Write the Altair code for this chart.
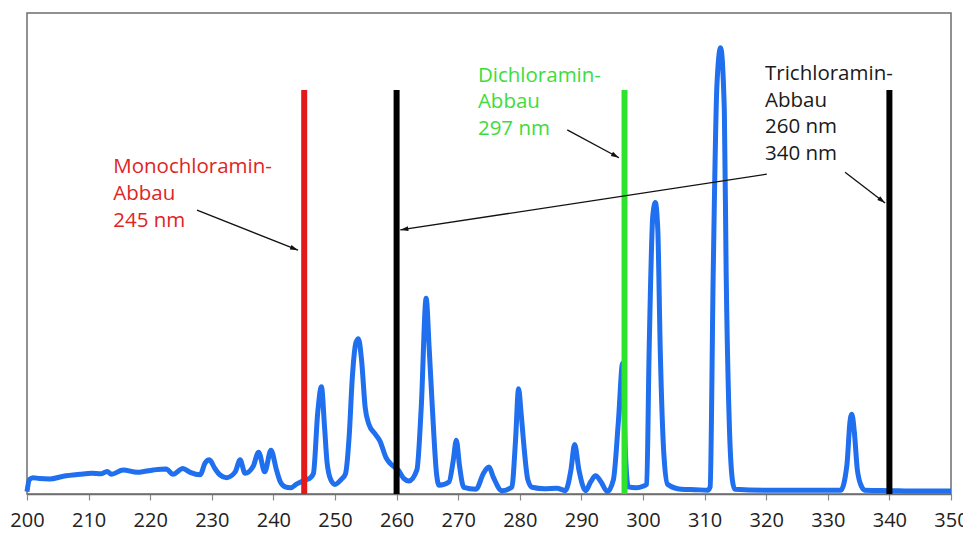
import math
import altair as alt
import pandas as pd

# ---- spectrum (wavelength in nm, relative intensity) ----
wavelength = [
    200.0, 200.4, 201.0, 202.0, 203.7, 205.9, 208.6, 210.5, 212.0, 213.0, 213.7,
    215.6, 217.9, 220.5, 222.6, 223.7, 225.3, 226.5, 228.1, 228.9, 229.6, 230.5,
    231.3, 232.4, 233.8, 234.6, 235.4, 236.7, 237.6, 238.6, 239.6, 240.5, 241.1,
    241.9, 242.8, 243.8, 244.6, 245.4, 246.0, 246.5, 247.2, 247.8, 248.3, 248.7,
    249.3, 250.0, 251.0, 251.7, 252.3, 252.8, 253.4, 253.8, 254.3, 254.9, 255.5,
    256.5, 257.3, 258.3, 259.0, 260.3, 261.2, 262.0, 263.3, 264.0, 264.8, 265.3,
    265.8, 266.5, 266.9, 268.5, 269.2, 269.7, 270.2, 270.9, 272.9, 274.1, 275.0,
    275.7, 277.1, 278.7, 279.3, 279.8, 280.2, 280.6, 281.3, 282.0, 284.0, 286.0,
    287.4, 288.3, 288.9, 289.6, 290.7, 291.5, 292.3, 293.2, 294.2, 295.2, 296.0,
    296.7, 297.1, 297.6, 298.9, 300.0, 300.6, 301.0, 301.6, 302.0, 302.4, 302.8,
    303.4, 304.0, 306.2, 308.5, 310.5, 310.9, 311.4, 312.0, 312.6, 313.2, 313.5,
    314.0, 314.5, 314.9, 320.0, 326.0, 332.1, 333.1, 333.6, 333.9, 334.3, 334.8,
    335.5, 336.0, 340.0, 345.0, 350.0,
]
intensity = [
    0.5, 3.0, 3.4, 3.2, 3.1, 3.7, 4.1, 4.3, 4.2, 4.7, 4.1,
    5.0, 4.5, 5.0, 5.2, 4.1, 5.3, 4.5, 4.0, 6.4, 7.1, 5.3,
    4.0, 3.4, 4.6, 7.1, 4.3, 5.7, 8.7, 4.6, 9.1, 5.0, 2.6,
    1.5, 1.3, 2.1, 2.6, 3.0, 3.4, 4.3, 17.0, 22.3, 14.0, 6.7,
    3.0, 2.0, 3.0, 4.2, 12.0, 24.0, 31.5, 32.3, 28.0, 18.0, 14.5,
    12.5, 11.0, 7.5, 6.3, 4.9, 3.2, 2.7, 5.0, 18.0, 40.7, 30.0,
    18.0, 4.0, 1.8, 2.5, 7.0, 11.2, 6.0, 1.4, 1.0, 4.3, 5.6,
    3.5, 0.7, 1.4, 11.0, 21.9, 17.0, 11.0, 3.0, 1.4, 1.1, 1.2,
    0.7, 5.0, 10.3, 5.0, 0.7, 2.5, 3.8, 2.5, 0.5, 3.0, 15.0,
    27.2, 10.0, 1.5, 1.3, 1.6, 2.0, 30.0, 58.0, 60.6, 55.0, 30.0,
    8.0, 2.0, 1.0, 0.9, 0.8, 1.5, 46.0, 85.0, 92.8, 80.0, 46.0,
    15.0, 3.0, 1.0, 0.8, 0.8, 0.8, 6.0, 15.0, 16.6, 13.0, 5.0,
    1.5, 0.8, 0.7, 0.6, 0.6,
]

# ---- marker wavelengths (vertical bars) ----
marker_nm = [245, 260, 297, 340]
marker_color = ["#e3191c", "#000000", "#2ee32e", "#000000"]
marker_top = 84.0

# ---- annotation texts ----
label_text = [
    "Monochloramin-\nAbbau\n245 nm",
    "Dichloramin-\nAbbau\n297 nm",
    "Trichloramin-\nAbbau\n260 nm\n340 nm",
]
label_x = [214.0, 273.2, 319.8]
label_y = [66.7, 85.7, 86.1]
label_color = ["#e02424", "#3ddc3d", "#1a1a1a"]

# ---- arrows (start -> tip, in data units) ----
arrow_x1 = [227.6, 287.7, 320.1, 332.8]
arrow_y1 = [59.0, 75.7, 66.5, 66.9]
arrow_x2 = [244.0, 296.1, 260.6, 339.3]
arrow_y2 = [50.7, 69.9, 54.9, 60.5]

W, H = 924, 481
X_DOM = [200, 350]
Y_DOM = [0, 100]
px_per_x = W / (X_DOM[1] - X_DOM[0])
px_per_y = H / (Y_DOM[1] - Y_DOM[0])

spec_df = pd.DataFrame({"nm": wavelength, "val": intensity})
mark_df = pd.DataFrame({"nm": marker_nm, "y0": [0.0] * 4, "y1": [marker_top] * 4, "c": marker_color})
text_df = pd.DataFrame({"x": label_x, "y": label_y, "t": label_text, "c": label_color})

angles = []
for x1, y1, x2, y2 in zip(arrow_x1, arrow_y1, arrow_x2, arrow_y2):
    dx = (x2 - x1) * px_per_x
    dy = -(y2 - y1) * px_per_y
    angles.append(math.degrees(math.atan2(dx, -dy)) % 360)
arrow_df = pd.DataFrame({"x1": arrow_x1, "y1": arrow_y1, "x2": arrow_x2, "y2": arrow_y2, "a": angles})

xs = alt.Scale(domain=X_DOM, nice=False, zero=False)
ys = alt.Scale(domain=Y_DOM, nice=False, zero=False)

line = alt.Chart(spec_df).mark_line(
    color="#1f6fee", strokeWidth=5, strokeJoin="round", interpolate="monotone"
).encode(
    x=alt.X("nm:Q", scale=xs, axis=alt.Axis(
        values=list(range(200, 351, 10)), title=None, grid=False,
        labelFontSize=20, labelFont="Open Sans", labelColor="#222222",
        tickColor="#8a8a8a", tickSize=6, tickWidth=1.2, domainColor="#6e6e6e",
        domainWidth=1.5, labelPadding=10, labelFlush=False)),
    y=alt.Y("val:Q", scale=ys, axis=None),
)

bars = alt.Chart(mark_df).mark_rule(strokeWidth=6).encode(
    x=alt.X("nm:Q", scale=xs),
    y=alt.Y("y0:Q", scale=ys),
    y2="y1:Q",
    color=alt.Color("c:N", scale=None),
)

arrow_lines = alt.Chart(arrow_df).mark_rule(strokeWidth=1.3, color="#111111").encode(
    x=alt.X("x1:Q", scale=xs), y=alt.Y("y1:Q", scale=ys), x2="x2:Q", y2="y2:Q"
)

heads = alt.Chart(arrow_df).mark_point(
    shape="M0,0L-0.6,2L0.6,2Z", filled=True, size=64, color="#111111", opacity=1
).encode(
    x=alt.X("x2:Q", scale=xs), y=alt.Y("y2:Q", scale=ys),
    angle=alt.Angle("a:Q", scale=None),
)

texts = alt.Chart(text_df).mark_text(
    align="left", baseline="alphabetic", fontSize=20.5, font="Open Sans",
    lineBreak="\n", lineHeight=26.7,
).encode(
    x=alt.X("x:Q", scale=xs), y=alt.Y("y:Q", scale=ys),
    text="t:N", color=alt.Color("c:N", scale=None),
)

chart = alt.layer(line, bars, arrow_lines, heads, texts).properties(
    width=W, height=H,
    autosize=alt.AutoSizeParams(type="none"),
    padding={"left": 19, "top": 5, "right": 12, "bottom": 37},
    background="white",
).configure_view(stroke="#6e6e6e", strokeWidth=1.5)

chart.save("out.html", embed_options={"renderer": "svg", "actions": False})
